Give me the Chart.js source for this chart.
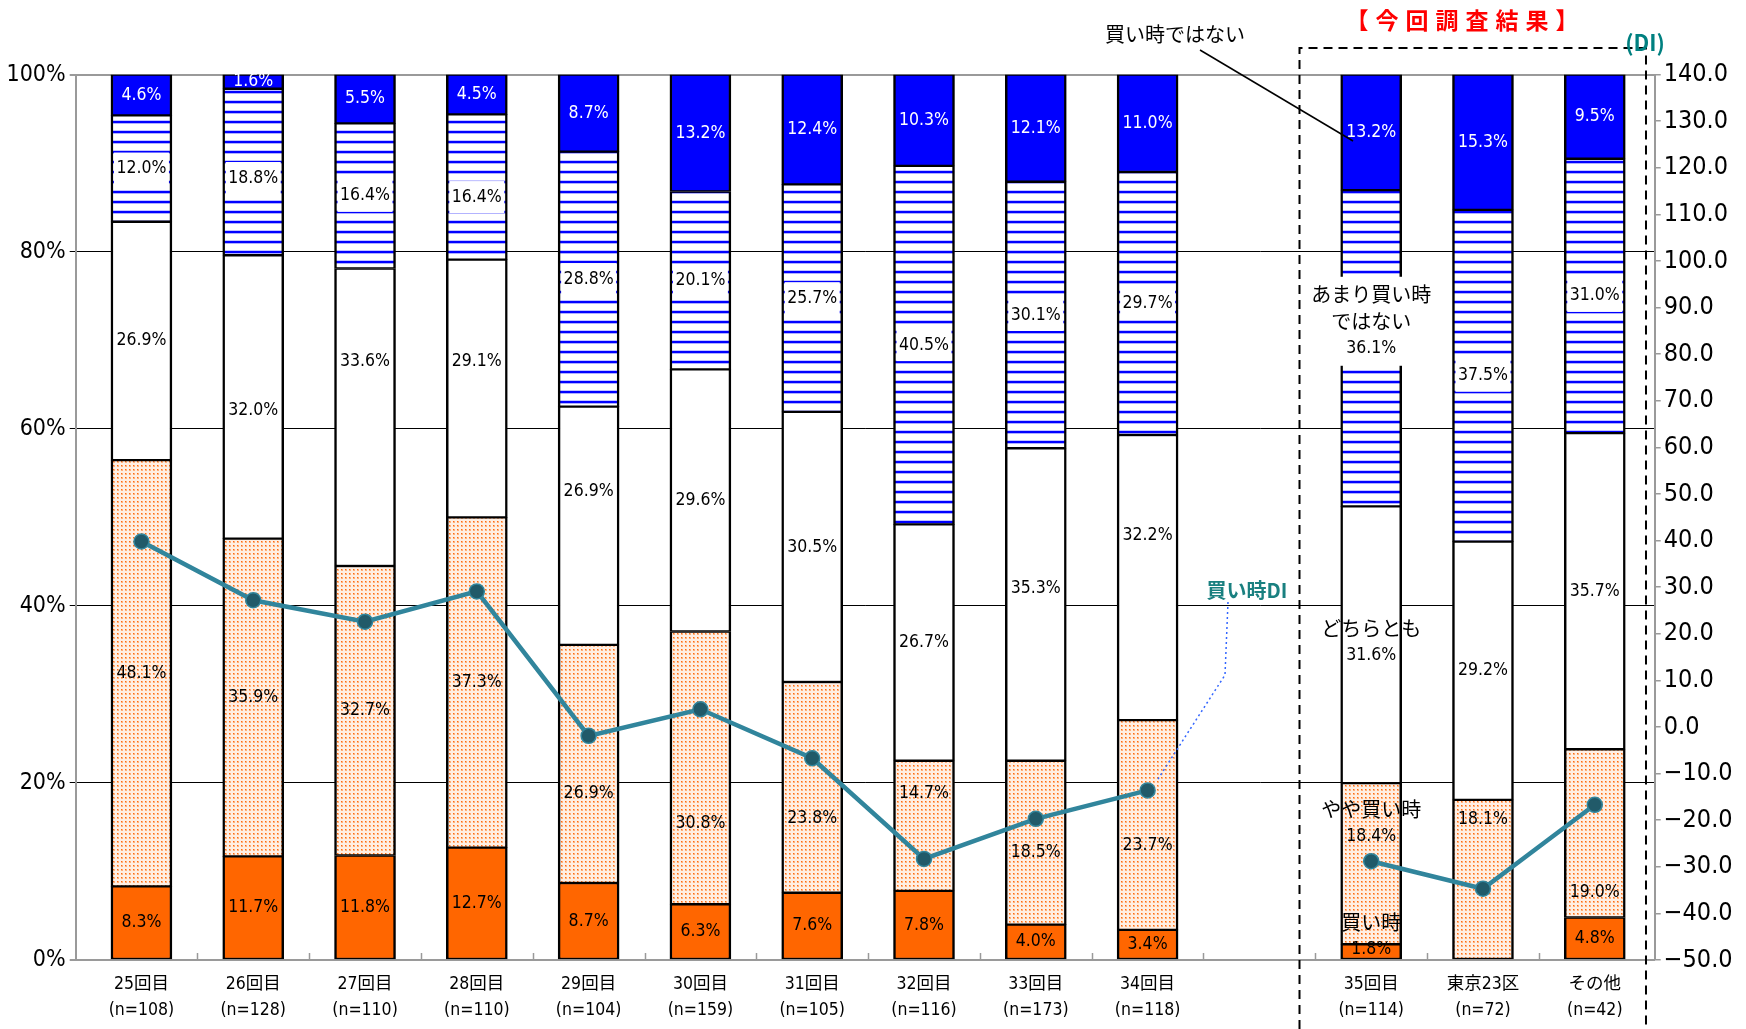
<!DOCTYPE html>
<html lang="ja">
<head>
<meta charset="utf-8">
<title>住宅の買い時感と買い時DI</title>
<script src="https://cdn.jsdelivr.net/npm/chart.js@4.4.1/dist/chart.umd.min.js"></script>
<style>
  html, body { margin: 0; padding: 0; background: #ffffff; }
  canvas { display: block; }
</style>
</head>
<body>
<canvas id="c" width="1746" height="1029"></canvas>
<script>
// ---- data ----
const surveys = ['25回目', '26回目', '27回目', '28回目', '29回目', '30回目', '31回目', '32回目', '33回目', '34回目', '35回目', '東京23区', 'その他'];
const sampleSizes = ['(n=108)', '(n=128)', '(n=110)', '(n=110)', '(n=104)', '(n=159)', '(n=105)', '(n=116)', '(n=173)', '(n=118)', '(n=114)', '(n=72)', '(n=42)'];

const kaidoki           = [8.3, 11.7, 11.8, 12.7, 8.7, 6.3, 7.6, 7.8, 4.0, 3.4, 1.8, 0.0, 4.8];
const yayaKaidoki       = [48.1, 35.9, 32.7, 37.3, 26.9, 30.8, 23.8, 14.7, 18.5, 23.7, 18.4, 18.1, 19.0];
const dochiratomo       = [26.9, 32.0, 33.6, 29.1, 26.9, 29.6, 30.5, 26.7, 35.3, 32.2, 31.6, 29.2, 35.7];
const amariKaidokiDeNai = [12.0, 18.8, 16.4, 16.4, 28.8, 20.1, 25.7, 40.5, 30.1, 29.7, 36.1, 37.5, 31.0];
const kaidokiDeNai      = [4.6, 1.6, 5.5, 4.5, 8.7, 13.2, 12.4, 10.3, 12.1, 11.0, 13.2, 15.3, 9.5];

const kaidokiDI = [39.8, 27.2, 22.6, 29.1, -1.9, 3.8, -6.7, -28.3, -19.7, -13.6, -28.8, -34.7, -16.7];

const seriesNames = ['買い時', 'やや買い時', 'どちらとも', 'あまり買い時\nではない', '買い時ではない'];
const pctTicks = [0, 20, 40, 60, 80, 100];
const diTicks = [-50, -40, -30, -20, -10, 0, 10, 20, 30, 40, 50, 60, 70, 80, 90, 100, 110, 120, 130, 140];

// ---- layout helpers ----
const NARROW = "'Liberation Sans Narrow', 'DejaVu Sans Condensed', 'Noto Sans CJK JP', sans-serif";
const JP = "'Noto Sans CJK JP', sans-serif";
const AXIS_GRAY = '#9a9a9a';
const TEAL = '#31859C';

// one empty slot separates the past surveys from the latest results
const slotOf = i => (i < 10 ? i : i + 1);
const latestIndex = 10;

const valueSeries = [kaidoki, yayaKaidoki, dochiratomo, amariKaidokiDeNai, kaidokiDeNai];
const totals = surveys.map((_, i) => valueSeries.reduce((a, s) => a + s[i], 0));

const canvas = document.getElementById('c');
const ctx = canvas.getContext('2d');

function makeDots() {
  const t = document.createElement('canvas');
  t.width = 4; t.height = 4;
  const g = t.getContext('2d');
  g.fillStyle = '#ffefe3'; g.fillRect(0, 0, 4, 4);
  g.fillStyle = '#ffb07a'; g.fillRect(1, 1, 2, 2);
  g.fillStyle = '#ff6a10'; g.fillRect(1, 1, 1, 1);
  return ctx.createPattern(t, 'repeat');
}
function makeStripes() {
  const t = document.createElement('canvas');
  t.width = 4; t.height = 10;
  const g = t.getContext('2d');
  g.fillStyle = '#ffffff'; g.fillRect(0, 0, 4, 10);
  g.fillStyle = '#c4c4ff'; g.fillRect(0, 0, 4, 1);
  g.fillStyle = '#0000ff'; g.fillRect(0, 1, 4, 2);
  g.fillStyle = '#b0b0ff'; g.fillRect(0, 3, 4, 1);
  return ctx.createPattern(t, 'repeat');
}

const fills = ['#ff6600', makeDots(), '#ffffff', makeStripes(), '#0000ff'];

const barDatasets = valueSeries.map((series, s) => ({
  type: 'bar',
  label: seriesNames[s],
  order: 1,
  yAxisID: 'y',
  data: series.map((v, i) => ({ x: slotOf(i), y: v / totals[i] * 100 })),
  backgroundColor: fills[s],
  borderColor: '#000000',
  borderWidth: { top: 1.5, bottom: 1.5, left: 2.5, right: 2.5 },
  borderSkipped: false,
  barThickness: 61
}));

const diPoints = [];
surveys.forEach((_, i) => {
  if (i === latestIndex) diPoints.push({ x: latestIndex, y: null });
  diPoints.push({ x: slotOf(i), y: kaidokiDI[i] });
});

const lineDataset = {
  type: 'line',
  label: '買い時DI',
  order: 0,
  yAxisID: 'y1',
  data: diPoints,
  borderColor: TEAL,
  borderWidth: 4.5,
  pointRadius: 7.5,
  pointBackgroundColor: '#215a69',
  pointBorderColor: TEAL,
  pointBorderWidth: 1.5,
  tension: 0,
  spanGaps: false
};

// vertical nudges (px) for labels that sit away from the segment centre
const labelShift = {
  0: { 10: -16 },
  1: { 4: 30, 5: 56, 6: 31, 7: -32, 8: 10, 9: 20, 10: -41, 11: -60, 12: 59 },
  2: { 1: 14, 2: -56, 3: -27, 4: -34, 8: -16, 9: -42, 10: -3 },
  3: { 1: 6, 3: 10, 10: -27 }
};

const segmentLabels = {
  id: 'segmentLabels',
  afterDatasetsDraw(chart) {
    const c = chart.ctx;
    c.save();
    c.textAlign = 'center';
    c.textBaseline = 'middle';
    valueSeries.forEach((series, s) => {
      const meta = chart.getDatasetMeta(s + 1);
      meta.data.forEach((bar, i) => {
        const v = series[i];
        if (!v) return;
        const shift = (labelShift[s] && labelShift[s][i]) || 0;
        const cx = bar.x;
        const cy = (bar.y + bar.base) / 2 + shift;
        const lines = [];
        if (i === latestIndex && s < 4) {
          seriesNames[s].split('\n').forEach(t => lines.push({ t, font: '20px ' + JP }));
        }
        lines.push({ t: v.toFixed(1) + '%', font: '17.5px ' + NARROW });
        const lh = 27;
        const top = cy - (lines.length * lh) / 2;
        if (s === 3) {
          let w = bar.width - 6, h = 32;
          if (lines.length > 1) {
            w = 0;
            lines.forEach(l => { c.font = l.font; w = Math.max(w, c.measureText(l.t).width); });
            w += 12;
            h = lines.length * lh + 8;
          }
          c.fillStyle = '#ffffff';
          c.fillRect(cx - w / 2, cy - h / 2, w, h);
        }
        c.fillStyle = s === 4 ? '#ffffff' : '#000000';
        lines.forEach((l, k) => {
          c.font = l.font;
          c.fillText(l.t, cx, top + lh * (k + 0.5));
        });
      });
    });
    c.restore();
  }
};

const decorations = {
  id: 'decorations',
  afterDraw(chart) {
    const c = chart.ctx;
    const xs = chart.scales.x;
    const area = chart.chartArea;
    c.save();

    // category tick marks on the baseline
    c.strokeStyle = AXIS_GRAY;
    c.lineWidth = 1.5;
    for (let k = 0; k < 13; k++) {
      const px = Math.round(xs.getPixelForValue(k + 0.5)) + 0.5;
      c.beginPath();
      c.moveTo(px, area.bottom);
      c.lineTo(px, area.bottom - 7);
      c.stroke();
    }

    // category labels
    c.fillStyle = '#000000';
    c.textAlign = 'center';
    c.textBaseline = 'middle';
    surveys.forEach((name, i) => {
      const px = xs.getPixelForValue(slotOf(i));
      c.font = '17.5px ' + NARROW;
      c.fillText(name, px, area.bottom + 24);
      c.fillText(sampleSizes[i], px, area.bottom + 50);
    });

    // frame around the latest results
    c.strokeStyle = '#000000';
    c.lineWidth = 2;
    c.setLineDash([9, 6]);
    c.beginPath();
    c.moveTo(1299.5, 1029);
    c.lineTo(1299.5, 48);
    c.lineTo(1646, 48);
    c.lineTo(1646, 1029);
    c.stroke();
    c.setLineDash([]);

    // heading of the framed block
    c.fillStyle = '#ff0000';
    c.font = 'bold 23px ' + JP;
    c.textAlign = 'center';
    const heading = '【今回調査結果】';
    const step = 30;
    const start = 1462 - step * (heading.length - 1) / 2;
    [...heading].forEach((ch, k) => c.fillText(ch, start + k * step, 20));

    // right-axis unit
    c.fillStyle = '#008080';
    c.font = 'bold 22px ' + JP;
    c.fillText('(DI)', 1645, 43);

    // callout for the top segment
    c.fillStyle = '#000000';
    c.font = '20px ' + JP;
    c.fillText('買い時ではない', 1175, 34);
    c.strokeStyle = '#000000';
    c.lineWidth = 1.5;
    c.beginPath();
    c.moveTo(1200, 50);
    c.lineTo(1353, 141);
    c.stroke();

    // callout for the DI line
    c.fillStyle = '#1a8080';
    c.font = 'bold 20px ' + JP;
    c.fillText('買い時DI', 1247, 590);
    c.strokeStyle = '#3366ff';
    c.lineWidth = 1.5;
    c.setLineDash([2, 3]);
    c.beginPath();
    c.moveTo(1228, 602);
    c.lineTo(1225, 675);
    c.lineTo(1158, 779);
    c.stroke();
    c.setLineDash([]);

    c.restore();
  }
};

new Chart(canvas, {
  type: 'bar',
  data: { datasets: [lineDataset, ...barDatasets] },
  options: {
    responsive: false,
    animation: false,
    events: [],
    layout: { padding: { top: 74.6, left: 0, right: 0, bottom: 0 } },
    plugins: { legend: { display: false }, tooltip: { enabled: false } },
    scales: {
      x: {
        type: 'linear',
        min: -0.588,
        max: 13.536,
        stacked: true,
        offset: false,
        grid: { display: false },
        border: { display: true, color: AXIS_GRAY, width: 2 },
        ticks: { display: false },
        afterFit(s) { s.height = 69; }
      },
      y: {
        type: 'linear',
        position: 'left',
        stacked: true,
        min: 0,
        max: 100,
        afterBuildTicks(s) { s.ticks = pctTicks.map(v => ({ value: v })); },
        ticks: {
          callback: v => v + '%',
          color: '#000000',
          font: { family: NARROW, size: 23 },
          padding: 4
        },
        grid: {
          color: g => (g.tick && (g.tick.value === 100 || g.tick.value === 0)) ? AXIS_GRAY : '#000000',
          lineWidth: g => (g.tick && (g.tick.value === 100 || g.tick.value === 0)) ? 2 : 1,
          tickLength: 6
        },
        border: { display: true, color: AXIS_GRAY, width: 2 },
        afterFit(s) { s.width = 75.7; }
      },
      y1: {
        type: 'linear',
        position: 'right',
        min: -50,
        max: 140,
        afterBuildTicks(s) { s.ticks = diTicks.map(v => ({ value: v })); },
        ticks: {
          callback: v => (v < 0 ? '−' : '') + Math.abs(v).toFixed(1),
          color: '#000000',
          font: { family: NARROW, size: 25 },
          padding: 3,
          autoSkip: false
        },
        grid: { drawOnChartArea: false, color: AXIS_GRAY, tickLength: 6, lineWidth: 1.5 },
        border: { display: true, color: AXIS_GRAY, width: 2 },
        afterFit(s) { s.width = 91.3; }
      }
    }
  },
  plugins: [segmentLabels, decorations]
});
</script>
</body>
</html>
